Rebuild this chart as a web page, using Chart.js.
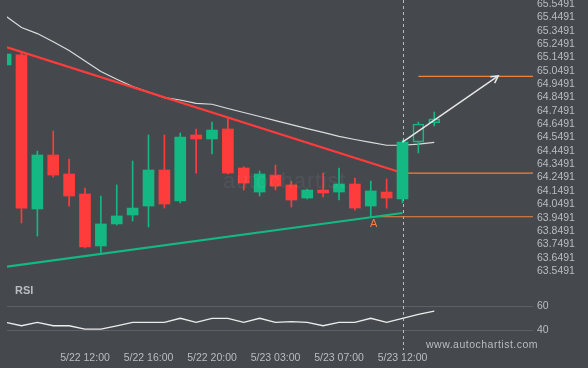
<!DOCTYPE html>
<html>
<head>
<meta charset="utf-8">
<script src="https://cdn.jsdelivr.net/npm/chart.js@4.4.1/dist/chart.umd.min.js"></script>
<style>
  html, body { margin: 0; padding: 0; background: #45484d; }
  #wrap { position: relative; width: 588px; height: 368px; overflow: hidden; background: #45484d; }
  #wrap canvas { position: absolute; left: 0; top: 0; }
  .wm { position: absolute; left: 223px; top: 168px; font: 22px "Liberation Sans", Arial, sans-serif; letter-spacing: 0.8px; color: rgba(255, 255, 255, 0.06); }
  .rsi { position: absolute; left: 15px; top: 284px; font: bold 11px "Liberation Sans", Arial, sans-serif; color: #b9bdc3; }
  .site { position: absolute; left: 426px; top: 338px; font: 10.5px "Liberation Sans", Arial, sans-serif; letter-spacing: 0.5px; color: #b9bdc3; }
</style>
</head>
<body>
<div id="wrap">
  <canvas id="myChart" width="588" height="368"></canvas>
  <div class="wm">autochartist</div>
  <div class="rsi">RSI</div>
  <div class="site">www.autochartist.com</div>
</div>
<script>
// candles (one per bar index 0..27)
const opens  = [65.092, 65.167, 64.014, 64.418, 64.276, 64.126, 63.737, 63.902, 63.969, 64.036, 64.306, 64.074, 64.568, 64.538, 64.613, 64.321, 64.141, 64.268, 64.194, 64.096, 64.156, 64.141, 64.201, 64.036, 64.141, 64.089, 64.515, 64.658];
const highs  = [65.182, 65.189, 64.448, 64.598, 64.388, 64.171, 64.111, 64.194, 64.373, 64.568, 64.568, 64.583, 64.613, 64.665, 64.695, 64.330, 64.298, 64.343, 64.220, 64.163, 64.283, 64.321, 64.246, 64.223, 64.238, 64.530, 64.665, 64.740];
const lows   = [65.084, 63.909, 63.812, 64.253, 64.036, 63.722, 63.677, 63.894, 63.924, 63.879, 64.021, 64.059, 64.283, 64.426, 64.276, 64.156, 64.111, 64.156, 64.029, 64.089, 64.104, 64.081, 64.006, 63.954, 64.021, 64.059, 64.433, 64.635];
const closes = [65.174, 64.021, 64.418, 64.268, 64.111, 63.730, 63.902, 63.962, 64.021, 64.306, 64.051, 64.553, 64.538, 64.605, 64.283, 64.208, 64.276, 64.186, 64.081, 64.156, 64.134, 64.201, 64.021, 64.149, 64.096, 64.515, 64.650, 64.688];
const hollowBars = [26, 27];

const maValues = [65.459, 65.372, 65.327, 65.266, 65.200, 65.122, 65.043, 64.985, 64.931, 64.890, 64.848, 64.830, 64.804, 64.798, 64.766, 64.736, 64.706, 64.676, 64.646, 64.616, 64.587, 64.557, 64.534, 64.512, 64.491, 64.491, 64.500, 64.512];
const rsiValues = [46.5, 43.6, 46.5, 43.6, 43.6, 40.8, 40.8, 43.5, 46.5, 46.5, 46.5, 49.9, 46.5, 49.9, 49.9, 46.5, 49.9, 46.5, 47.0, 46.5, 43.6, 46.5, 46.5, 49.9, 46.5, 49.9, 53.2, 56.0];

// triangle pattern + levels
const resistX = [0.09, 25];
const resistY = [65.224, 64.283];
const supportX = [0.09, 25];
const supportY = [63.582, 63.984];
const breakoutLevel = 64.282;
const pointALevel = 63.956;
const targetLevel = 65.007;
const arrowX = [25, 31.03];
const arrowY = [64.515, 65.010];
const breakIdx = 25;
const pointA = { idx: 23, price: 63.90 };

const timeTickIdx = [5, 9, 13, 17, 21, 25];
const timeLabels = ["5/22 12:00", "5/22 16:00", "5/22 20:00", "5/23 03:00", "5/23 07:00", "5/23 12:00"];
const priceTicks = [65.5491, 65.4491, 65.3491, 65.2491, 65.1491, 65.0491, 64.9491, 64.8491, 64.7491, 64.6491, 64.5491, 64.4491, 64.3491, 64.2491, 64.1491, 64.0491, 63.9491, 63.8491, 63.7491, 63.6491, 63.5491];
const rsiTicks = [40, 60];

const X_MIN = 0.087, X_MAX = 33.22;
const GREEN = "#14b883", RED = "#ff3c3c", ORANGE = "#f0823e", TXT = "#b9bdc3";
const FONT = { family: "'Liberation Sans', Arial, sans-serif", size: 10.5 };

const idx = opens.map((o, i) => i);
const isUp = (i) => closes[i] >= opens[i];
const candleColor = (i) => (isUp(i) ? GREEN : RED);
const pts = (xs, ys) => xs.map((x, i) => ({ x: x, y: ys[i] }));
const noPad = (s) => { s.paddingTop = 0; s.paddingBottom = 0; s.paddingLeft = 0; s.paddingRight = 0; };

const overlay = {
  id: "overlay",
  beforeDatasetsDraw(chart) {
    const { ctx, chartArea, scales } = chart;
    const x = Math.round(scales.x.getPixelForValue(breakIdx)) + 0.5;
    ctx.save();
    ctx.strokeStyle = "rgba(225,225,225,0.75)";
    ctx.lineWidth = 1;
    ctx.setLineDash([3, 3]);
    ctx.beginPath();
    ctx.moveTo(x, 0);
    ctx.lineTo(x, chartArea.bottom + 8);
    ctx.stroke();
    ctx.restore();
  },
  afterDatasetsDraw(chart) {
    const { ctx, scales } = chart;
    // arrow head
    const x1 = scales.x.getPixelForValue(arrowX[0]), y1 = scales.y.getPixelForValue(arrowY[0]);
    const x2 = scales.x.getPixelForValue(arrowX[1]), y2 = scales.y.getPixelForValue(arrowY[1]);
    const a = Math.atan2(y2 - y1, x2 - x1);
    ctx.save();
    ctx.strokeStyle = "#e6e6e6";
    ctx.lineWidth = 1.5;
    ctx.beginPath();
    ctx.moveTo(x2 - 8 * Math.cos(a - 0.5), y2 - 8 * Math.sin(a - 0.5));
    ctx.lineTo(x2, y2);
    ctx.lineTo(x2 - 8 * Math.cos(a + 0.5), y2 - 8 * Math.sin(a + 0.5));
    ctx.stroke();
    // point label
    ctx.fillStyle = ORANGE;
    ctx.font = "11px 'Liberation Sans', Arial, sans-serif";
    ctx.textAlign = "center";
    ctx.textBaseline = "middle";
    ctx.fillText("A", scales.x.getPixelForValue(pointA.idx) + 3, scales.y.getPixelForValue(pointA.price));
    ctx.restore();
  },
};

const bodyData = idx.map((i) => ({ x: i, y: [opens[i], closes[i]] }));
const upperWick = idx.map((i) => ({ x: i, y: [Math.max(opens[i], closes[i]), highs[i]] }));
const lowerWick = idx.map((i) => ({ x: i, y: [lows[i], Math.min(opens[i], closes[i])] }));

const ctx = document.querySelector("canvas#myChart").getContext("2d");
const myChart = new Chart(ctx, {
  data: {
    datasets: [
      { type: "bar", data: upperWick, grouped: false, barThickness: 1, backgroundColor: idx.map(candleColor), order: 1 },
      { type: "bar", data: lowerWick, grouped: false, barThickness: 1, backgroundColor: idx.map(candleColor), order: 1 },
      {
        type: "bar", data: bodyData, grouped: false, barThickness: 11, borderSkipped: false,
        backgroundColor: idx.map((i) => (hollowBars.includes(i) ? "rgba(0,0,0,0)" : candleColor(i))),
        borderColor: idx.map(candleColor),
        borderWidth: idx.map((i) => (hollowBars.includes(i) ? 1 : 0)),
        order: 1,
      },
      { type: "line", data: pts(idx, maValues), borderColor: "#dcdcdc", borderWidth: 1.2, pointRadius: 0, order: 3 },
      { type: "line", data: pts(resistX, resistY), borderColor: RED, borderWidth: 2.2, pointRadius: 0, order: 2 },
      { type: "line", data: pts(supportX, supportY), borderColor: GREEN, borderWidth: 2.2, pointRadius: 0, order: 2 },
      { type: "line", data: pts([breakIdx, X_MAX], [breakoutLevel, breakoutLevel]), borderColor: ORANGE, borderWidth: 1.2, pointRadius: 0, order: 2 },
      { type: "line", data: pts([pointA.idx, X_MAX], [pointALevel, pointALevel]), borderColor: ORANGE, borderWidth: 1.2, pointRadius: 0, order: 2 },
      { type: "line", data: pts([26, X_MAX], [targetLevel, targetLevel]), borderColor: ORANGE, borderWidth: 1.2, pointRadius: 0, order: 2 },
      { type: "line", data: pts(arrowX, arrowY), borderColor: "#e6e6e6", borderWidth: 1.5, pointRadius: 0, order: 0 },
      { type: "line", data: pts(idx, rsiValues), yAxisID: "yRsi", borderColor: "#ececec", borderWidth: 1.3, pointRadius: 0, order: 0 },
    ],
  },
  options: {
    responsive: false,
    animation: false,
    layout: { padding: { left: 7, top: 0, right: 0, bottom: 0 } },
    plugins: { legend: { display: false }, tooltip: { enabled: false } },
    scales: {
      x: {
        type: "linear", min: X_MIN, max: X_MAX, offset: false,
        grid: { display: false, offset: false, drawTicks: false }, border: { display: false },
        afterBuildTicks: (s) => { s.ticks = timeTickIdx.map((v) => ({ value: v })); },
        ticks: { color: TXT, font: FONT, padding: 10, maxRotation: 0, autoSkip: false, callback: (v) => timeLabels[timeTickIdx.indexOf(v)] },
        afterFit: (s) => { s.height = 26; noPad(s); },
      },
      y: {
        position: "right", stack: "pane", stackWeight: 282, min: 63.4675, max: 65.5783,
        grid: { display: false, drawTicks: false }, border: { display: false },
        afterBuildTicks: (s) => { s.ticks = priceTicks.map((v) => ({ value: v })); },
        ticks: { color: TXT, font: FONT, padding: 4, autoSkip: false, callback: (v) => v.toFixed(4) },
        afterFit: (s) => { s.width = 55; noPad(s); },
      },
      yRsi: {
        position: "right", stack: "pane", stackWeight: 60, min: 29.9, max: 80.5,
        grid: { color: "rgba(255,255,255,0.13)", drawTicks: false }, border: { display: false },
        afterBuildTicks: (s) => { s.ticks = rsiTicks.map((v) => ({ value: v })); },
        ticks: { color: TXT, font: FONT, padding: 4, autoSkip: false },
        afterFit: (s) => { s.width = 55; noPad(s); },
      },
    },
  },
  plugins: [overlay],
});
</script>
</body>
</html>
